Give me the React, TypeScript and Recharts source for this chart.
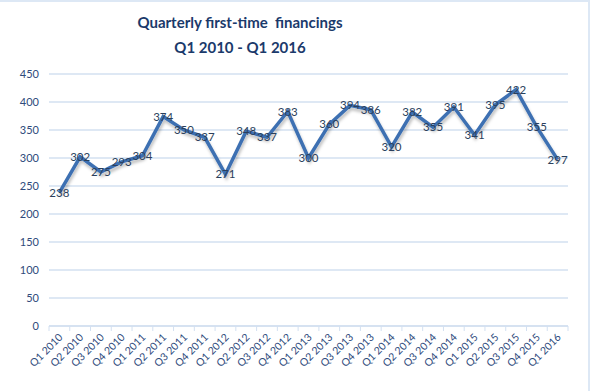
import { LineChart, Line, XAxis, YAxis, CartesianGrid, LabelList } from 'recharts'

const quarters = [
  'Q1 2010', 'Q2 2010', 'Q3 2010', 'Q4 2010',
  'Q1 2011', 'Q2 2011', 'Q3 2011', 'Q4 2011',
  'Q1 2012', 'Q2 2012', 'Q3 2012', 'Q4 2012',
  'Q1 2013', 'Q2 2013', 'Q3 2013', 'Q4 2013',
  'Q1 2014', 'Q2 2014', 'Q3 2014', 'Q4 2014',
  'Q1 2015', 'Q2 2015', 'Q3 2015', 'Q4 2015',
  'Q1 2016',
]
const financings = [
  238, 302, 275, 293,
  304, 374, 350, 337,
  271, 348, 337, 383,
  300, 360, 394, 386,
  320, 382, 355, 391,
  341, 395, 422, 355,
  297,
]
const yTicks = [0, 50, 100, 150, 200, 250, 300, 350, 400, 450]

const data = quarters.map((q, i) => ({ quarter: q, value: financings[i] }))

const W = 590
const H = 391
const M = { top: 74, right: 22, left: 0, bottom: 0 }
const Y_AXIS_W = 49
const band = (W - M.left - M.right - Y_AXIS_W) / quarters.length

const FONT = 'Lato, "Open Sans", sans-serif'
const TEXT = '#2f4b7c'
const GRID = '#d3e0f1'

// category labels rotated, tick marks on the band edges (Excel style)
function QuarterTick(props: any) {
  const { x, y, payload, index } = props
  const last = index === quarters.length - 1
  return (
    <g>
      <line x1={x - band / 2} x2={x - band / 2} y1={y - 10} y2={y - 5} stroke={GRID} />
      {last && <line x1={x + band / 2} x2={x + band / 2} y1={y - 10} y2={y - 5} stroke={GRID} />}
      <text
        x={x + 4}
        y={y + 2}
        textAnchor="end"
        transform={`rotate(-45, ${x + 4}, ${y + 2})`}
        fill={TEXT}
        fontSize={10.5}
        fontFamily={FONT}
      >
        {payload.value}
      </text>
    </g>
  )
}

function PointLabel(props: any) {
  const { x, y, value } = props
  return (
    <text x={x} y={y + 4} textAnchor="middle" fill="#2b3f5c" fontSize={11.5} fontFamily={FONT}>
      {value}
    </text>
  )
}

export default function App() {
  return (
    <div
      style={{
        position: 'absolute',
        left: 0,
        top: 0,
        width: W,
        height: H,
        background: '#fff',
        boxSizing: 'border-box',
        borderTop: '2px solid #dde8f5',
        borderRight: '2px solid #dde8f5',
      }}
    >
      <div
        style={{
          position: 'absolute',
          top: 8,
          left: 40,
          width: 400,
          textAlign: 'center',
          fontFamily: FONT,
          fontWeight: 700,
          fontSize: 15,
          lineHeight: '25px',
          color: '#1b3a6b',
        }}
      >
        Quarterly first-time&nbsp; financings
        <br />
        Q1 2010 - Q1 2016
      </div>
      <div style={{ position: 'absolute', left: 0, top: -2 }}>
        <LineChart width={W} height={H} data={data} margin={M}>
          <defs>
            <filter id="lineShadow" x="-5%" y="-5%" width="110%" height="120%">
              <feDropShadow dx="1" dy="3" stdDeviation="1.5" floodColor="#000" floodOpacity="0.25" />
            </filter>
          </defs>
          <CartesianGrid horizontal vertical={false} stroke={GRID} strokeWidth={1.5} />
          <XAxis
            dataKey="quarter"
            interval={0}
            height={65}
            padding={{ left: band / 2, right: band / 2 }}
            axisLine={{ stroke: GRID, strokeWidth: 1.5 }}
            tickLine={false}
            tickSize={8}
            tick={<QuarterTick />}
          />
          <YAxis
            domain={[0, 450]}
            ticks={yTicks}
            width={Y_AXIS_W}
            axisLine={false}
            tickLine={false}
            tickSize={8}
            tick={{ fill: TEXT, fontSize: 11, fontFamily: FONT }}
          />
          <Line
            type="linear"
            dataKey="value"
            stroke="#3e70b2"
            strokeWidth={3.5}
            dot={false}
            filter="url(#lineShadow)"
            isAnimationActive={false}
          >
            <LabelList dataKey="value" content={<PointLabel />} />
          </Line>
        </LineChart>
      </div>
    </div>
  )
}
